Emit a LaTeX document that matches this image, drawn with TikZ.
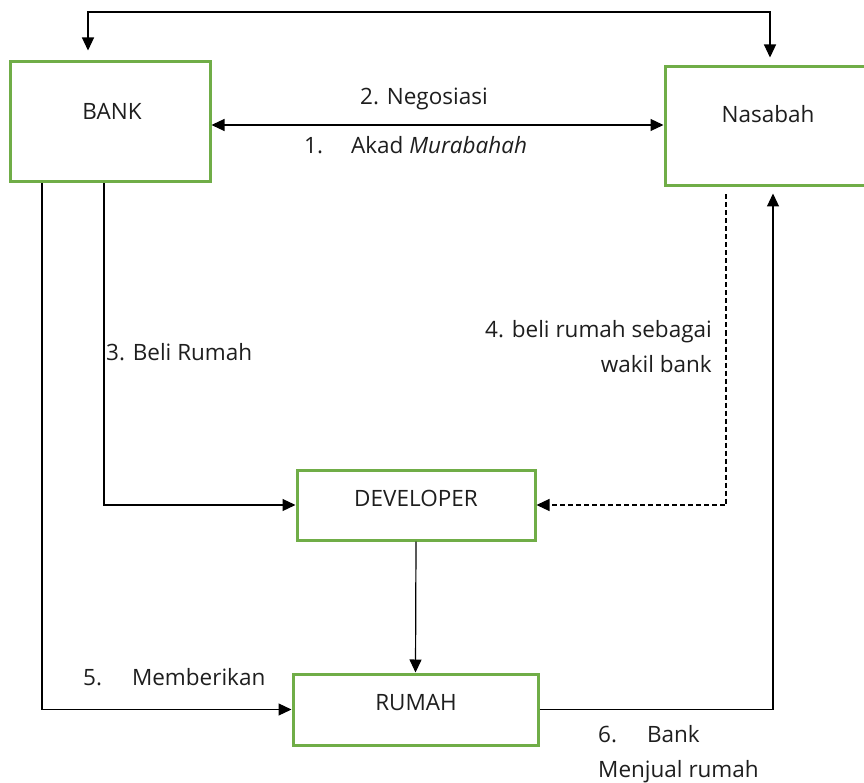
\documentclass[tikz,border=0pt]{standalone}
\usepackage{fontspec}
\setmainfont{Open Sans}
\usetikzlibrary{arrows.meta}
\definecolor{boxgreen}{RGB}{112,173,71}
\definecolor{txt}{RGB}{30,30,30}
\begin{document}
\begin{tikzpicture}[x=1pt,y=-1pt,
  box/.style={draw=boxgreen,line width=3pt,fill=white,inner sep=0pt},
  lbl/.style={inner sep=0pt,text=txt,font=\fontsize{22.5}{35}\selectfont},
  conn/.style={line width=1.2pt,-{Triangle[length=13pt,width=12pt]}},
  dconn/.style={conn,dash pattern=on 5pt off 3pt}]
\useasboundingbox (0,0) rectangle (864,783);
\clip (0,0) rectangle (864,783);
% boxes
\node[box,minimum width=200pt,minimum height=120pt] (bank) at (110,122) {};
\node[box,minimum width=206pt,minimum height=119pt] (nas) at (768,126.5) {};
\node[box,minimum width=238pt,minimum height=70pt] (dev) at (416,505) {};
\node[box,minimum width=245pt,minimum height=71pt] (rumah) at (415.5,709.5) {};
% box texts
\node[lbl] (tbank) at (112,111) {BANK};
\node[lbl] (tnas) at (768,114) {Nasabah};
\node[lbl] (tdev) at (416,498) {DEVELOPER};
\node[lbl] (trumah) at (416,703) {RUMAH};
% helper coordinates
\coordinate (topmid) at (410,12);
\coordinate (xa) at (88,0);
\coordinate (xb) at (770,0);
\coordinate (x3) at (104,0);
\coordinate (x5) at (42,0);
\coordinate (x4) at (726,0);
\coordinate (x6) at (773,0);
% top connector
\draw[conn,shorten >=10pt] (topmid) -| (xa |- bank.north);
\draw[conn,shorten >=8pt] (topmid) -| (xb |- nas.north);
% negotiation double arrow
\draw[line width=1.2pt,{Triangle[length=13pt,width=12pt]}-{Triangle[length=13pt,width=12pt]}] (bank.east |- 0,125) -- (nas.west |- 0,125);
% 3: bank to developer
\draw[conn] (x3 |- bank.south) |- (dev.west);
% 5: bank to rumah
\draw[conn] (x5 |- bank.south) |- (rumah.west);
% 4: nasabah to developer (dashed)
\draw[dconn,shorten <=7pt] (x4 |- nas.south) |- (dev.east);
% developer to rumah
\draw[conn] (dev.south) -- (rumah.north);
% 6: rumah to nasabah
\draw[conn,shorten >=6pt] (rumah.east) -| (x6 |- nas.south);
% labels
\node[lbl] (l2) at (424,99) {2. Negosiasi};
\node[lbl,anchor=west] (l1) at (304,145) {1.\hspace{28pt}Akad \textit{Murabahah}};
\node[lbl,anchor=west] (l3) at (106,352) {3. Beli Rumah};
\node[lbl,anchor=east,align=right] (l4) at (712,347) {4. beli rumah sebagai\\wakil bank};
\node[lbl,anchor=west] (l5) at (83,677) {5.\hspace{30pt}Memberikan};
\node[lbl,anchor=west,align=left] (l6) at (598,754) {6.\hspace{30pt}Bank\\Menjual rumah};
\end{tikzpicture}
\end{document}
